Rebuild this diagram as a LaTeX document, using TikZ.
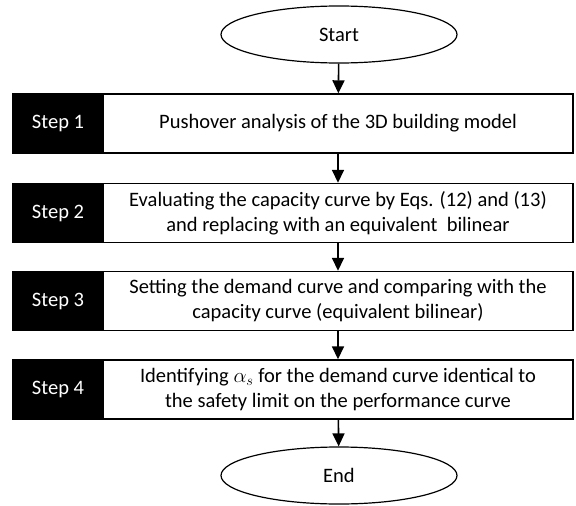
\documentclass[tikz,border=0pt]{standalone}
\usepackage{fontspec}
\setmainfont{Carlito}
\usetikzlibrary{shapes.geometric,arrows.meta}

\tikzset{
	term/.style={draw, ellipse, line width=1.2pt, minimum width=236pt, minimum height=57pt, inner sep=0pt, font=\fontsize{20.5}{24}\selectfont},
	stepbox/.style={draw, fill=white, line width=1.4pt, minimum width=470pt, minimum height=59pt, inner sep=0pt, align=center, font=\fontsize{20.5}{25}\selectfont},
	steplabel/.style={draw=black, fill=black, text=white, line width=1.4pt, minimum width=90pt, minimum height=59pt, inner sep=0pt, font=\fontsize{20.5}{24}\selectfont},
	flow/.style={line width=1.6pt, -{Triangle[length=13pt,width=12pt]}}
}

\begin{document}
\begin{tikzpicture}[x=1pt,y=-1pt]
	\useasboundingbox (0,0) rectangle (576,506);
	
	\node[term] (start) at (339,34.5) {Start};
	
	\node[stepbox] (box1) at (338,123.5) {Pushover analysis of the 3D building model};
	\node[steplabel] (lab1) at (58,123.5) {Step 1};
	
	\node[stepbox] (box2) at (338,213) {Evaluating the capacity curve by Eqs. (12) and (13)\\and replacing with an equivalent \ bilinear};
	\node[steplabel] (lab2) at (58,213) {Step 2};
	
	\node[stepbox] (box3) at (338,301) {Setting the demand curve and comparing with the\\capacity curve (equivalent bilinear)};
	\node[steplabel] (lab3) at (58,301) {Step 3};
	
	\node[stepbox] (box4) at (338,389.5) {Identifying $\alpha_s$ for the demand curve identical to\\the safety limit on the performance curve};
	\node[steplabel] (lab4) at (58,389.5) {Step 4};
	
	\node[term] (end) at (339,475.5) {End};
	
	\draw[flow] (start) -- (box1);
	\draw[flow] (box1) -- (box2);
	\draw[flow] (box2) -- (box3);
	\draw[flow] (box3) -- (box4);
	\draw[flow] (box4) -- (end);
	
\end{tikzpicture}
\end{document}
